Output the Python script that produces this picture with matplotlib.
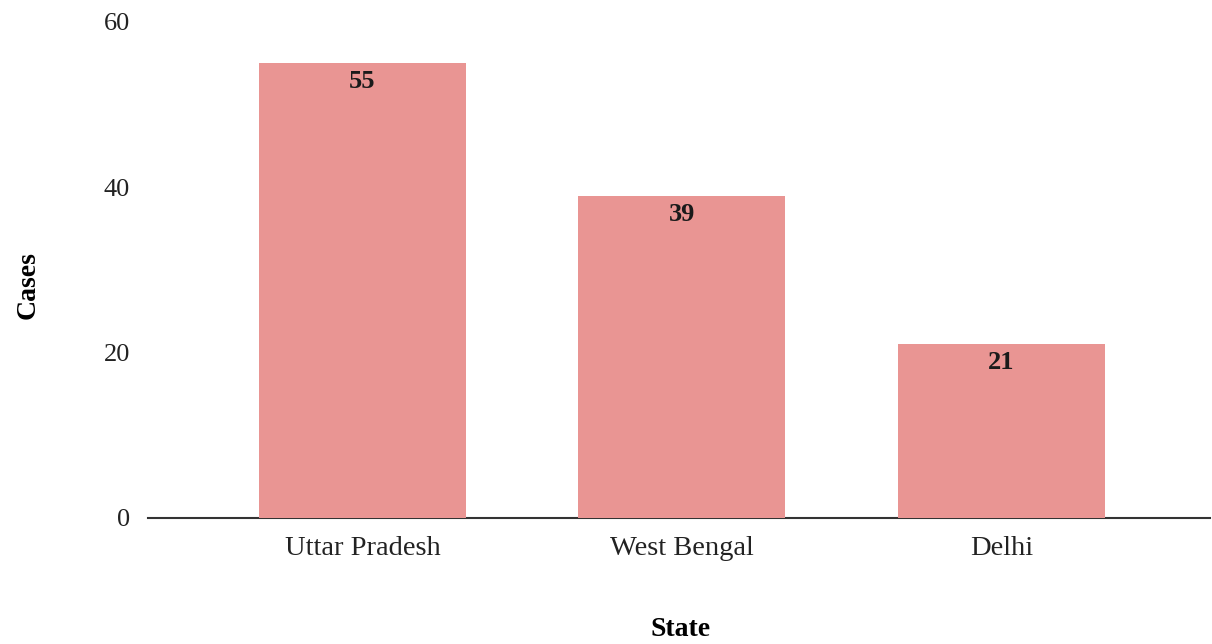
import matplotlib
matplotlib.use("Agg")
import matplotlib.pyplot as plt

states = ["Uttar Pradesh", "West Bengal", "Delhi"]
cases = [55, 39, 21]
yticks = [0, 20, 40, 60]

plt.rcParams['font.family'] = ['Liberation Serif', 'DejaVu Serif']

fig = plt.figure(figsize=(12.12, 6.44), dpi=100)
ax = fig.add_axes([148/1212, (644-518)/644, (1210-148)/1212, (518-22)/644])

x = list(range(len(states)))
bars = ax.bar(x, cases, width=0.648, color="#E99593", zorder=3)
for xi, v in zip(x, cases):
    ax.annotate(str(v), (xi, v), xytext=(0, -5), textcoords="offset points",
                ha="center", va="top", fontsize=19, fontweight="bold", color="#1a1a1a", zorder=4)

ax.set_xlim(-0.671, 2.653)
ax.set_ylim(0, 60)
ax.set_yticks(yticks)
ax.set_yticklabels([str(t) for t in yticks])
ax.set_xticks(x)
ax.set_xticklabels(states)
ax.tick_params(axis="both", length=0, colors="#222222")
ax.tick_params(axis="y", pad=13, labelsize=19)
ax.tick_params(axis="x", pad=13, labelsize=20.5)
for s in ["top", "right", "left"]:
    ax.spines[s].set_visible(False)
ax.spines["bottom"].set_color("#333333")
ax.spines["bottom"].set_linewidth(1.5)
ax.spines["bottom"].set_zorder(2)

ax.set_ylabel("Cases", fontsize=20, fontweight="bold", va="center")
ax.yaxis.set_label_coords((28 - 148) / 1062, (518 - 285) / 496)
ax.set_xlabel("State", fontsize=20, fontweight="bold", va="center")
ax.xaxis.set_label_coords((681 - 148) / 1062, (518 - 630) / 496)

fig.savefig("out.png", dpi=100)
